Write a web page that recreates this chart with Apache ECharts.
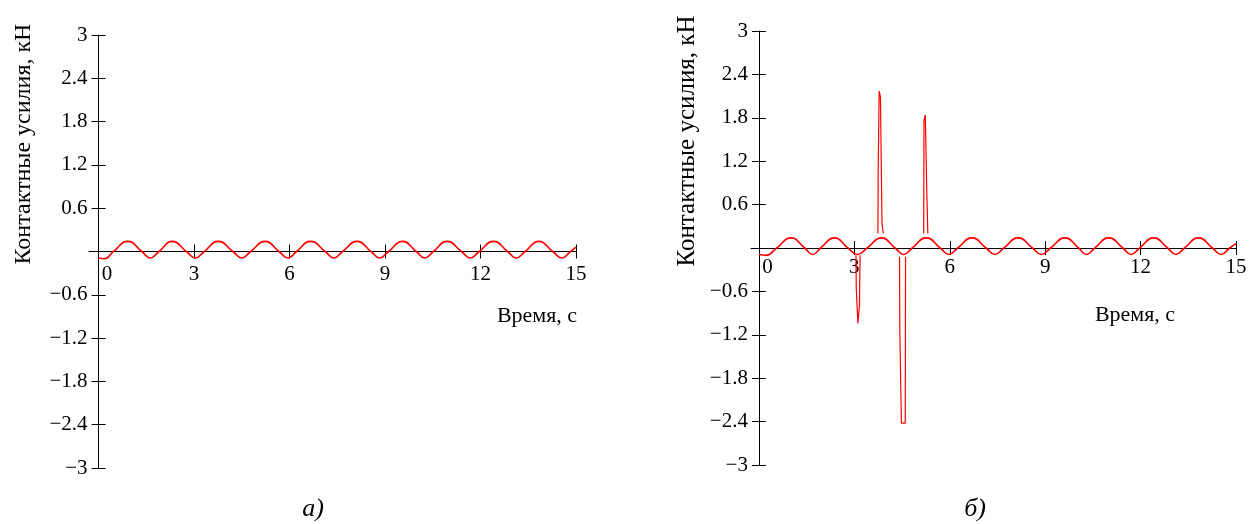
<!DOCTYPE html>
<html><head><meta charset="utf-8">
<script src="https://cdn.jsdelivr.net/npm/echarts@6/dist/echarts.min.js"></script>
<style>html,body{margin:0;padding:0;background:#fff}#c{width:1253px;height:524px}</style>
</head><body><div id="c"></div>
<script>
// Tick labels
const xTicks = [0, 3, 6, 9, 12, 15];
const yTicks = [-3, -2.4, -1.8, -1.2, -0.6, 0.6, 1.2, 1.8, 2.4, 3];

// Panel а) contact force (kN) vs time (s)
const leftTime = [0, 0.18, 0.47, 0.92, 1.36, 1.62, 1.9, 2.31, 2.76, 3.04, 3.32, 3.76, 4.22, 4.5, 4.78, 5.23, 5.67, 5.95, 6.22, 6.66, 7.12, 7.39, 7.67, 8.12, 8.56, 8.83, 9.11, 9.55, 9.98, 10.25, 10.52, 10.95, 11.4, 11.68, 11.96, 12.41, 12.85, 13.12, 13.4, 13.83, 14.27, 14.55, 14.83, 15];
const leftForce = [-0.09, -0.1, 0, 0.14, 0, -0.09, 0, 0.14, 0, -0.09, 0, 0.14, 0, -0.09, 0, 0.14, 0, -0.09, 0, 0.14, 0, -0.09, 0, 0.14, 0, -0.09, 0, 0.14, 0, -0.09, 0, 0.14, 0, -0.09, 0, 0.14, 0, -0.09, 0, 0.14, 0, -0.09, 0, 0.06];

// Panel б) base oscillation
const rightTime = [0, 0.22, 0.56, 1.0, 1.44, 1.69, 1.94, 2.38, 2.8, 3.1, 3.4, 3.85, 4.28, 4.55, 4.82, 5.26, 5.7, 5.97, 6.25, 6.7, 7.14, 7.42, 7.7, 8.15, 8.6, 8.88, 9.17, 9.62, 10.05, 10.3, 10.56, 11.0, 11.44, 11.7, 11.97, 12.41, 12.85, 13.11, 13.38, 13.82, 14.26, 14.53, 14.8, 15];
const rightForce = [-0.09, -0.1, 0, 0.14, 0, -0.09, 0, 0.14, 0, -0.09, 0, 0.14, 0, -0.09, 0, 0.14, 0, -0.09, 0, 0.14, 0, -0.09, 0, 0.14, 0, -0.09, 0, 0.14, 0, -0.09, 0, 0.14, 0, -0.09, 0, 0.14, 0, -0.09, 0, 0.14, 0, -0.09, 0, 0.06];

// Panel б) impact spikes
const spike1Time = [3.05, 3.06, 3.1, 3.11, 3.15, 3.16, 3.18];
const spike1Force = [-0.1, -0.55, -0.55, -1.04, -1.04, -0.8, -0.1];
const spike2Time = [3.74, 3.75, 3.77, 3.78, 3.81, 3.82, 3.86, 3.87, 3.9, 3.91];
const spike2Force = [0.2, 1.1, 1.1, 2.17, 2.17, 2.09, 2.09, 0.34, 0.34, 0.2];
const spike3Time = [4.42, 4.43, 4.47, 4.48, 4.6, 4.61];
const spike3Force = [-0.12, -1.16, -1.16, -2.42, -2.42, -0.12];
const spike4Time = [5.18, 5.19, 5.22, 5.23, 5.27, 5.28, 5.3, 5.31];
const spike4Force = [0.2, 1.77, 1.77, 1.84, 1.84, 0.73, 0.73, 0.2];

const pairs = (t, v) => t.map((x, i) => [x, v[i]]);
const FONT = 'Liberation Serif';
const RED = '#ff0000';

// grid geometry (px)
const G = [
  { left: 89, top: 35, width: 487, height: 433, xMin: -0.3, labelMargin: 12 },
  { left: 751, top: 31, width: 485, height: 434, xMin: -0.25, labelMargin: 9 }
];

function xAxes(gi) {
  const g = G[gi];
  const off = -g.height / 2; // move the axis from the bottom edge up to y = 0 (range is symmetric)
  const base = { type: 'value', gridIndex: gi, min: g.xMin, max: 15, position: 'bottom', offset: off, splitLine: { show: false } };
  return [
    Object.assign({}, base, {
      axisLine: { show: true, onZero: false, lineStyle: { color: '#000', width: 1 } },
      axisTick: { show: true, inside: false, length: 7, customValues: xTicks, lineStyle: { color: '#000', width: 1 } },
      axisLabel: {
        customValues: xTicks, margin: g.labelMargin, color: '#000', fontFamily: FONT, fontSize: 21,
        formatter: v => v === 0 ? '{z|0}' : String(v),
        rich: { z: { padding: [0, 0, 0, 17], fontFamily: FONT, fontSize: 21, color: '#000' } }
      }
    }),
    Object.assign({}, base, {
      axisLine: { show: false, onZero: false },
      axisTick: { show: true, inside: true, length: 7, customValues: xTicks, lineStyle: { color: '#000', width: 1 } },
      axisLabel: { show: false }
    })
  ];
}
function yAxes(gi) {
  const g = G[gi];
  const off = g.xMin * g.width / (15 - g.xMin); // negative: shift the axis right to x = 0
  const base = { type: 'value', gridIndex: gi, min: -3, max: 3, position: 'left', offset: off, splitLine: { show: false } };
  return [
    Object.assign({}, base, {
      axisLine: { show: true, onZero: false, lineStyle: { color: '#000', width: 1 } },
      axisTick: { show: true, inside: false, length: 7, customValues: yTicks, lineStyle: { color: '#000', width: 1 } },
      axisLabel: {
        customValues: yTicks, margin: 11, color: '#000', fontFamily: FONT, fontSize: 21,
        formatter: v => String(v).replace('-', '\u2212')
      }
    }),
    Object.assign({}, base, {
      axisLine: { show: false, onZero: false },
      axisTick: { show: true, inside: true, length: 7, customValues: yTicks, lineStyle: { color: '#000', width: 1 } },
      axisLabel: { show: false }
    })
  ];
}

const lineSeries = (xi, yi, data, smooth, w) => ({
  type: 'line', xAxisIndex: xi, yAxisIndex: yi, data: data, smooth: smooth,
  symbol: 'none', lineStyle: { color: RED, width: w }, itemStyle: { color: RED },
  silent: true, z: 3
});

const txt = (x, y, text, size, extra) => Object.assign({
  type: 'text', x: x, y: y,
  style: { text: text, font: size + 'px "' + FONT + '"', fill: '#000', align: 'center', verticalAlign: 'middle' }
}, extra || {});

const chart = echarts.init(document.getElementById('c'), null, { renderer: 'canvas' });
chart.setOption({
  animation: false,
  backgroundColor: '#fff',
  grid: G.map(g => ({ left: g.left, top: g.top, width: g.width, height: g.height, outerBoundsMode: 'none', containLabel: false })),
  xAxis: [].concat(xAxes(0), xAxes(1)),
  yAxis: [].concat(yAxes(0), yAxes(1)),
  series: [
    lineSeries(0, 0, pairs(leftTime, leftForce), 0.5, 1.6),
    lineSeries(2, 2, pairs(rightTime, rightForce), 0.5, 1.6),
    lineSeries(2, 2, pairs(spike1Time, spike1Force), false, 1.2),
    lineSeries(2, 2, pairs(spike2Time, spike2Force), false, 1.2),
    lineSeries(2, 2, pairs(spike3Time, spike3Force), false, 1.2),
    lineSeries(2, 2, pairs(spike4Time, spike4Force), false, 1.2)
  ],
  graphic: [
    txt(24, 144, 'Контактные усилия, кН', 24, { rotation: Math.PI / 2 }),
    txt(687, 141, 'Контактные усилия, кН', 25, { rotation: Math.PI / 2 }),
    txt(537, 316, 'Время, с', 22),
    txt(1135, 315, 'Время, с', 22),
    { type: 'text', x: 313, y: 509, style: { text: 'а)', font: 'italic 26px "' + FONT + '"', fill: '#000', align: 'center', verticalAlign: 'middle' } },
    { type: 'text', x: 975, y: 509, style: { text: 'б)', font: 'italic 26px "' + FONT + '"', fill: '#000', align: 'center', verticalAlign: 'middle' } }
  ]
});
</script>
</body></html>
